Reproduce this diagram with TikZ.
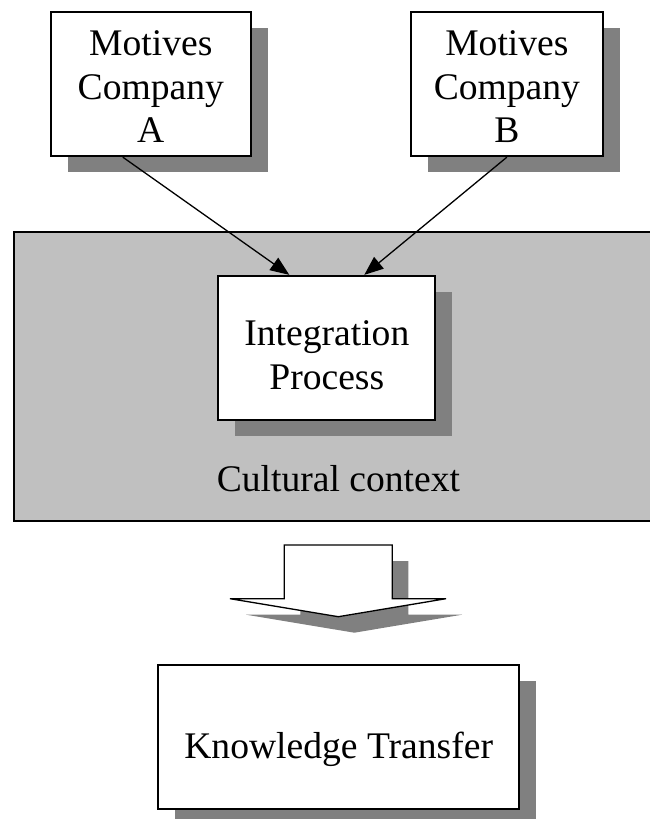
\documentclass[tikz,border=0pt]{standalone}
\usepackage{fontspec}
\setmainfont{Liberation Serif}
\usetikzlibrary{arrows.meta,shadows}
\definecolor{ctxgray}{HTML}{C0C0C0}
\definecolor{shadegray}{HTML}{808080}

\begin{document}
\begin{tikzpicture}[
	x=1pt, y=-1pt,
	every node/.style={font=\fontsize{37.6}{43.5}\selectfont, align=center},
	boxshadow/.style={drop shadow={shadow xshift=17pt, shadow yshift=-16pt, fill=shadegray, opacity=1}},
	box/.style={draw, line width=1.8pt, fill=white, minimum height=144.5pt, boxshadow},
	link/.style={line width=1.3pt, -{Triangle[length=19pt,width=15pt]}},
]
	\useasboundingbox (0,0) rectangle (649,819);

	\draw [line width=1.8pt, fill=ctxgray] (14,232) rectangle (680,521);
	\node (ctx) [anchor=base] at (338.4,491.7) {Cultural context};

	\node (ma) [box, minimum width=200.3pt, text height=117.4pt, text depth=0pt] at (150.8,84) {Motives\\Company\\A};
	\node (mb) [box, minimum width=192.3pt, text height=117.4pt, text depth=0pt] at (506.9,84) {Motives\\Company\\B};
	\node (ip) [box, minimum width=217pt, text height=82.6pt, text depth=0pt] at (326.8,348) {Integration\\Process};
	\node (kt) [box, minimum width=360.7pt, text height=50.6pt, text depth=8pt] at (338.7,737) {Knowledge Transfer};

	\draw [link] ([xshift=-28pt]ma.south) -- ([xshift=-37.5pt]ip.north);
	\draw [link] (mb.south) -- ([xshift=37.5pt]ip.north);

	\draw [line width=1.3pt, fill=white, drop shadow={shadow xshift=16pt, shadow yshift=-16pt, fill=shadegray, opacity=1}]
		(284.3,545) -- (392.3,545) -- (392.3,598.7) -- (446,598.7) -- (338.3,616.7)
		-- (230,598.7) -- (284.3,598.7) -- cycle;
\end{tikzpicture}
\end{document}
